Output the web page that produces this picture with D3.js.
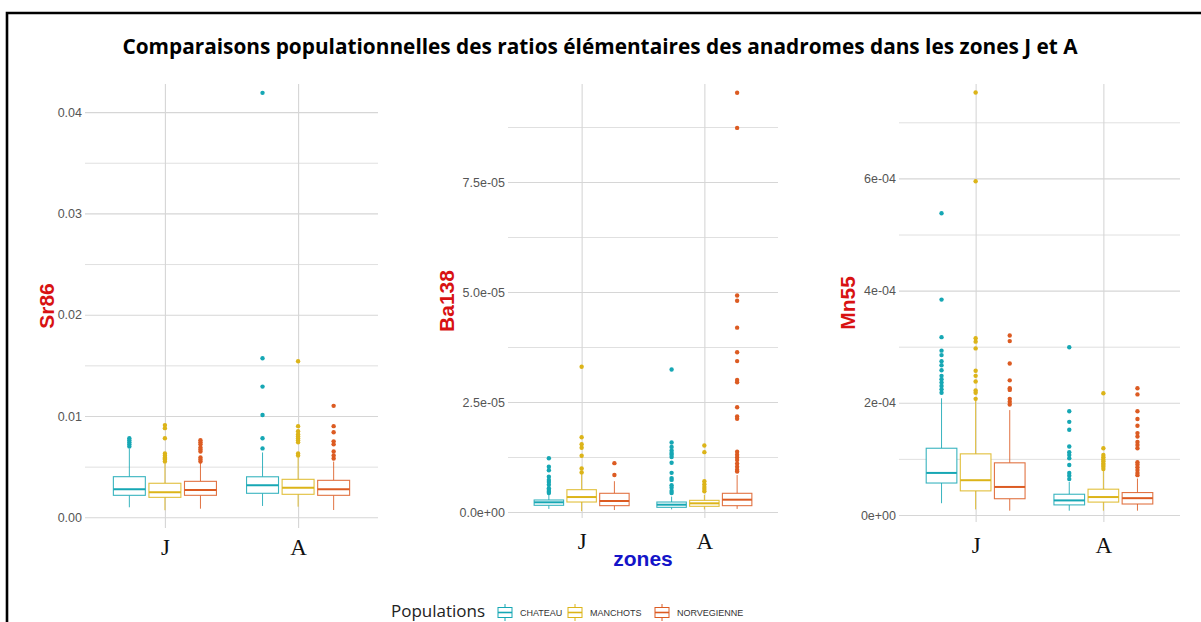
<!DOCTYPE html>
<html>
<head>
<meta charset="utf-8">
<script src="https://cdn.jsdelivr.net/npm/d3@7"></script>
<style>
  body { margin:0; background:#fff; }
  svg { display:block; }
</style>
</head>
<body>
<svg id="chart" width="1201" height="622"></svg>
<script>
// ---- data ----
var zones = ["J", "A"];
var populations = ["CHATEAU", "MANCHOTS", "NORVEGIENNE"];

// [whisker low, q1, median, q3, whisker high], order: J-CHATEAU, J-MANCHOTS, J-NORVEGIENNE, A-...
var sr86Stats = [
  [0.00099, 0.00217, 0.00276, 0.00401, 0.0068],
  [0.0007, 0.00197, 0.00247, 0.00336, 0.0053],
  [0.00085, 0.00217, 0.0027, 0.00355, 0.0054],
  [0.00112, 0.00237, 0.00316, 0.0040, 0.0064],
  [0.00105, 0.00227, 0.00292, 0.00375, 0.0059],
  [0.00072, 0.00217, 0.00276, 0.00365, 0.0055]
];
var sr86Outliers = [
  [0.0078, 0.0076, 0.0074, 0.0072, 0.0070],
  [0.0091, 0.0088, 0.0078, 0.0063, 0.0061, 0.0059, 0.0058, 0.0057, 0.0055],
  [0.0076, 0.0074, 0.0072, 0.0069, 0.0067, 0.0065, 0.0059, 0.0057, 0.0055],
  [0.0419, 0.0157, 0.0129, 0.0101, 0.0078, 0.0068],
  [0.0154, 0.0090, 0.0085, 0.0082, 0.0080, 0.0078, 0.0076, 0.0074, 0.0063, 0.0061],
  [0.0110, 0.0090, 0.0084, 0.0075, 0.0072, 0.0065, 0.0061, 0.0058]
];

// Ba138 in units of 1e-6
var ba138Stats = [
  [0.7, 1.52, 2.2, 2.73, 4.0],
  [0.2, 2.27, 3.4, 5.07, 8.8],
  [0.45, 1.44, 2.5, 4.25, 7.0],
  [0.6, 1.06, 1.66, 2.27, 3.5],
  [0.6, 1.29, 1.97, 2.65, 3.86],
  [0.7, 1.44, 2.8, 4.25, 8.4]
];
var ba138Outliers = [
  [12.2, 10.3, 9.5, 8.0, 7.3, 6.8, 6.2, 5.4, 5.0, 4.6, 4.3],
  [33.0, 17.0, 15.4, 14.6, 12.8, 9.9, 9.0],
  [11.1, 8.4],
  [32.4, 15.8, 14.8, 14.0, 13.4, 13.0, 12.5, 11.2, 8.9, 7.7, 7.3, 6.1, 5.5, 4.8, 4.3],
  [15.1, 13.6, 7.0, 6.3, 5.7, 5.2, 4.7],
  [95.3, 87.3, 49.2, 48.0, 41.9, 36.3, 34.3, 30.0, 29.5, 23.8, 21.7, 21.2, 13.7, 13.0, 12.4, 11.8, 11.0, 10.3, 9.6, 9.2]
];

// Mn55 in units of 1e-5
var mn55Stats = [
  [2.1, 5.7, 7.5, 11.9, 20.8],
  [1.0, 4.3, 6.2, 10.9, 20.5],
  [0.77, 2.9, 5.0, 9.3, 18.7],
  [0.77, 1.8, 2.6, 3.7, 5.9],
  [0.77, 2.3, 3.2, 4.6, 7.9],
  [0.77, 1.96, 3.0, 4.0, 6.5]
];
var mn55Outliers = [
  [53.8, 38.4, 31.7, 29.3, 28.5, 27.4, 26.7, 25.8, 24.8, 24.2, 23.6, 23.0, 22.4, 21.8],
  [75.3, 59.5, 31.5, 30.9, 29.7, 25.7, 24.8, 23.8, 22.2, 21.8, 20.7],
  [32.0, 31.0, 27.0, 24.0, 22.6, 22.3, 20.7, 20.2, 19.7],
  [29.9, 18.5, 16.6, 15.2, 12.2, 11.2, 10.7, 10.1, 8.9, 7.5, 7.0, 6.4],
  [21.7, 11.9, 10.7, 10.3, 9.9, 9.6, 9.2, 8.9, 8.6, 8.2],
  [22.6, 21.5, 18.5, 17.1, 15.9, 14.6, 14.0, 13.0, 12.5, 11.9, 9.4, 9.0, 8.5, 8.0, 7.5, 7.1]
];

var sr86Ticks = [0, 0.01, 0.02, 0.03, 0.04];
var sr86Minor = [0.005, 0.015, 0.025, 0.035];
var ba138Ticks = [0, 2.5e-5, 5e-5, 7.5e-5];
var ba138Minor = [1.25e-5, 3.75e-5, 6.25e-5, 8.75e-5];
var mn55Ticks = [0, 2e-4, 4e-4, 6e-4];
var mn55Minor = [1e-4, 3e-4, 5e-4, 7e-4];

var popColors = ["#16a7b4", "#dcb419", "#dc5b22"];

// R-like scientific labels: 2.5e-05, 0e+00
function sci(d) {
  return function(v) {
    var s = v.toExponential(d);
    return s.replace(/e([+-])(\d)$/, "e$10$2");
  };
}

var panels = [
  { name: "Sr86", stats: sr86Stats, out: sr86Outliers, k: 1, ticks: sr86Ticks, minor: sr86Minor,
    fmt: d3.format(".2f"), x0: 85, x1: 378, top: 84, bottom: 528, zero: 517.3, unitPx: 101.3, unitVal: 0.01,
    titleX: 47, labelY: 555 },
  { name: "Ba138", stats: ba138Stats, out: ba138Outliers, k: 1e-6, ticks: ba138Ticks, minor: ba138Minor,
    fmt: sci(1), x0: 508, x1: 778, top: 84, bottom: 518, zero: 512, unitPx: 110, unitVal: 2.5e-5,
    titleX: 447, labelY: 549 },
  { name: "Mn55", stats: mn55Stats, out: mn55Outliers, k: 1e-5, ticks: mn55Ticks, minor: mn55Minor,
    fmt: sci(0), x0: 899, x1: 1180, top: 84, bottom: 522, zero: 515, unitPx: 112.2, unitVal: 2e-4,
    titleX: 848, labelY: 553 }
];

var svg = d3.select("#chart");

// frame
svg.append("path").attr("d", "M7,622 L7,13 L1201,13")
  .attr("fill", "none").attr("stroke", "#000").attr("stroke-width", 2.6);

// title: tall bold glyphs, squeezed to the width of the original
var title = svg.append("text")
  .attr("x", 0).attr("y", 0)
  .attr("text-anchor", "middle")
  .style("font-family", "'Open Sans', sans-serif")
  .style("font-weight", "bold")
  .style("font-size", "21px")
  .text("Comparaisons populationnelles des ratios élémentaires des anadromes dans les zones J et A");
var tw = title.node().getComputedTextLength();
title.attr("transform", "translate(600,54) scale(" + (956 / tw).toFixed(4) + ",1)");

var dodge = 0.267, boxW = 0.24;

panels.forEach(function(p) {
  var g = svg.append("g");
  var vTop = p.unitVal * (p.zero - p.top) / p.unitPx;
  var vBot = -p.unitVal * (p.bottom - p.zero) / p.unitPx;
  var y = d3.scaleLinear().domain([vBot, vTop]).range([p.bottom, p.top]);
  var x = d3.scaleLinear().domain([0.4, 2.6]).range([p.x0, p.x1]);

  // minor grid
  g.append("g").attr("transform", "translate(" + p.x0 + ",0)")
    .call(d3.axisLeft(y).tickValues(p.minor).tickSize(-(p.x1 - p.x0)).tickFormat(""))
    .call(function(a) {
      a.select(".domain").remove();
      a.selectAll("line").attr("stroke", "#dcdcdc").attr("stroke-width", 0.9);
    });
  // major grid + labels
  g.append("g").attr("transform", "translate(" + p.x0 + ",0)")
    .call(d3.axisLeft(y).tickValues(p.ticks).tickSize(-(p.x1 - p.x0)).tickPadding(3).tickFormat(p.fmt))
    .call(function(a) {
      a.select(".domain").remove();
      a.selectAll("line").attr("stroke", "#d6d6d6").attr("stroke-width", 1.1);
      a.selectAll("text").attr("fill", "#555")
        .style("font-family", "'Liberation Sans', Arial, sans-serif").style("font-size", "12.5px");
    });
  // x grid + zone labels
  g.append("g").attr("transform", "translate(0," + p.bottom + ")")
    .call(d3.axisBottom(x).tickValues([1, 2]).tickSize(-(p.bottom - p.top)).tickFormat(function(d) { return zones[d - 1]; }))
    .call(function(a) {
      a.select(".domain").remove();
      a.selectAll("line").attr("stroke", "#d6d6d6").attr("stroke-width", 1.1);
      a.selectAll("text").attr("fill", "#111").attr("dy", null)
        .attr("y", p.labelY - p.bottom)
        .style("font-family", "'Liberation Serif', 'Times New Roman', serif").style("font-size", "23px");
    });

  // boxes
  var items = [];
  p.stats.forEach(function(s, i) {
    items.push({ zone: Math.floor(i / 3), pop: i % 3, s: s.map(function(v) { return v * p.k; }),
      out: p.out[i].map(function(v) { return v * p.k; }) });
  });
  var bx = g.selectAll("g.box").data(items).enter().append("g").attr("class", "box");
  bx.each(function(d) {
    var b = d3.select(this);
    var c = x(d.zone + 1 + (d.pop - 1) * dodge);
    var hw = (x(boxW) - x(0)) / 2;
    var col = popColors[d.pop];
    b.append("line").attr("x1", c).attr("x2", c).attr("y1", y(d.s[3])).attr("y2", y(d.s[4]))
      .attr("stroke", col).attr("stroke-width", 1).attr("stroke-opacity", 0.85);
    b.append("line").attr("x1", c).attr("x2", c).attr("y1", y(d.s[1])).attr("y2", y(d.s[0]))
      .attr("stroke", col).attr("stroke-width", 1).attr("stroke-opacity", 0.85);
    b.append("rect").attr("x", c - hw).attr("width", 2 * hw)
      .attr("y", y(d.s[3])).attr("height", y(d.s[1]) - y(d.s[3]))
      .attr("fill", "#fff").attr("stroke", col).attr("stroke-width", 1.1).attr("stroke-opacity", 0.85);
    b.append("line").attr("x1", c - hw).attr("x2", c + hw).attr("y1", y(d.s[2])).attr("y2", y(d.s[2]))
      .attr("stroke", col).attr("stroke-width", 2);
    b.selectAll("circle").data(d.out).enter().append("circle")
      .attr("cx", c).attr("cy", function(v) { return y(v); }).attr("r", 2.2).attr("fill", col);
  });

  // y title
  svg.append("text")
    .attr("transform", "translate(" + (p.titleX + 7) + "," + ((p.top + p.bottom) / 2) + ") rotate(-90)")
    .attr("text-anchor", "middle")
    .attr("fill", "#d81212")
    .style("font-family", "'Liberation Sans', Arial, sans-serif")
    .style("font-weight", "bold").style("font-size", "21px")
    .text(p.name);
});

// x title
svg.append("text").attr("x", 643).attr("y", 566).attr("text-anchor", "middle")
  .attr("fill", "#1414c8")
  .style("font-family", "'Liberation Sans', Arial, sans-serif")
  .style("font-weight", "bold").style("font-size", "21px")
  .text("zones");

// legend
var leg = svg.append("g");
leg.append("text").attr("x", 391).attr("y", 617)
  .style("font-family", "'Open Sans', sans-serif").style("font-size", "17px").attr("fill", "#222")
  .text("Populations");
var keyX = [498, 568, 655];
populations.forEach(function(name, i) {
  var kx = keyX[i], col = popColors[i];
  var k = leg.append("g");
  k.append("line").attr("x1", kx + 7).attr("x2", kx + 7).attr("y1", 604).attr("y2", 621)
    .attr("stroke", col).attr("stroke-width", 1);
  k.append("rect").attr("x", kx).attr("y", 607.5).attr("width", 14).attr("height", 10)
    .attr("fill", "#fff").attr("stroke", col).attr("stroke-width", 1);
  k.append("line").attr("x1", kx).attr("x2", kx + 14).attr("y1", 612.5).attr("y2", 612.5)
    .attr("stroke", col).attr("stroke-width", 1.6);
  k.append("text").attr("x", kx + 22).attr("y", 616)
    .style("font-family", "'Liberation Sans', Arial, sans-serif").style("font-size", "9px").attr("fill", "#333")
    .text(name);
});
</script>
</body>
</html>
